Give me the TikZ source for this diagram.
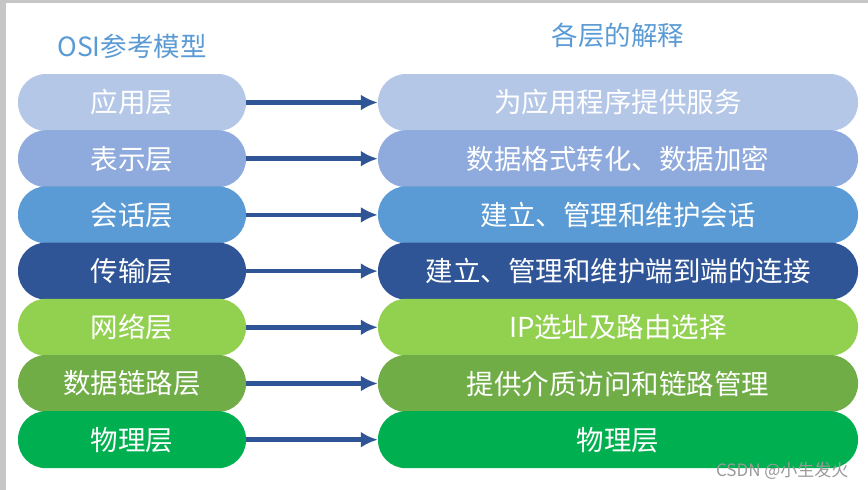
\documentclass[tikz,border=0pt]{standalone}
\usepackage{fontspec}
\setmainfont{Noto Sans CJK SC}
\newfontfamily\cjk{Noto Sans CJK SC}
\usepackage{tikz}
\tikzset{>=latex}
\usetikzlibrary{arrows.meta}
\definecolor{titleblue}{HTML}{5B9BD5}
\definecolor{arrowblue}{HTML}{2F5597}
\definecolor{app}{HTML}{B4C7E7}
\definecolor{pres}{HTML}{8FAADC}
\definecolor{sess}{HTML}{5B9BD5}
\definecolor{trans}{HTML}{2F5597}
\definecolor{netw}{HTML}{92D050}
\definecolor{link}{HTML}{70AD47}
\definecolor{phys}{HTML}{00B050}

\begin{document}
\begin{tikzpicture}[x=1pt, y=-1pt]
            \tikzset{layer/.style={rounded corners=28pt, minimum width=228pt, minimum height=57pt, inner sep=0pt, text=white, font=\cjk\fontsize{27.5}{30}\selectfont}}
            \tikzset{meaning/.style={layer, minimum width=480pt}}
            \tikzset{map/.style={arrowblue, line width=4.5pt, -{Latex[length=17pt, width=16pt]}}}
            \tikzset{heading/.style={titleblue, font=\cjk\fontsize{26.5}{30}\selectfont}}
            \useasboundingbox (0, 0) rectangle (868, 490);
            \fill[white] (0, 0) rectangle (868, 490);
            \fill[gray!45] (0, 0) rectangle (6, 490);
            \fill[gray!45] (0, 0) rectangle (868, 2.5);
            \node[heading] (osi) at (132, 46) {OSI参考模型};
            \node[heading] (expl) at (618, 35) {各层的解释};
            \node[layer, fill=app] (l1) at (132, 102.5) {应用层};
            \node[layer, fill=pres] (l2) at (132, 158.7) {表示层};
            \node[layer, fill=sess] (l3) at (132, 214.9) {会话层};
            \node[layer, fill=trans] (l4) at (132, 271.1) {传输层};
            \node[layer, fill=netw] (l5) at (132, 327.3) {网络层};
            \node[layer, fill=link] (l6) at (132, 383.5) {数据链路层};
            \node[layer, fill=phys] (l7) at (132, 439.7) {物理层};
            \node[meaning, fill=app] (r1) at (618, 102.5) {为应用程序提供服务};
            \node[meaning, fill=pres] (r2) at (618, 158.7) {数据格式转化、数据加密};
            \node[meaning, fill=sess] (r3) at (618, 214.9) {建立、管理和维护会话};
            \node[meaning, fill=trans] (r4) at (618, 271.1) {建立、管理和维护端到端的连接};
            \node[meaning, fill=netw] (r5) at (618, 327.3) {IP选址及路由选择};
            \node[meaning, fill=link] (r6) at (618, 383.5) {提供介质访问和链路管理};
            \node[meaning, fill=phys] (r7) at (618, 439.7) {物理层};
            \draw[map] (l1) -- (r1);
            \draw[map] (l2) -- (r2);
            \draw[map] (l3) -- (r3);
            \draw[map] (l4) -- (r4);
            \draw[map] (l5) -- (r5);
            \draw[map] (l6) -- (r6);
            \draw[map] (l7) -- (r7);
            \node[anchor=east, gray!80, font=\cjk\fontsize{17}{20}\selectfont] (mark) at (852, 471) {CSDN @小生发火};
\end{tikzpicture}
\end{document}
